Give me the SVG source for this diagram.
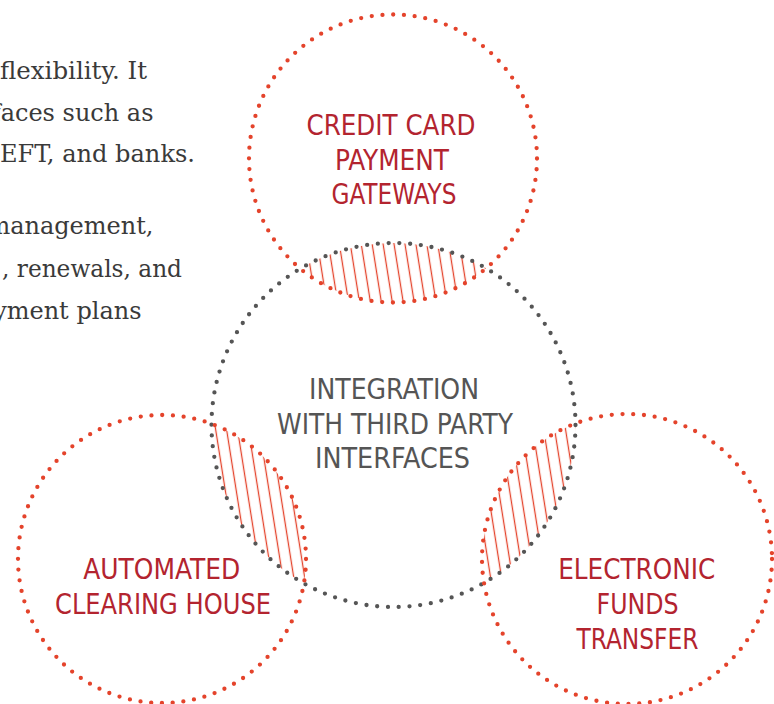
<svg xmlns="http://www.w3.org/2000/svg" width="774" height="704" viewBox="0 0 774 704">
  <style>
    .para { font-family: "DejaVu Serif", "Liberation Serif", serif; font-size: 24px; fill: #3a3a3a; text-anchor: end; }
    .lbl { font-family: "Liberation Sans Narrow", "DejaVu Sans Condensed", "Liberation Sans", sans-serif; font-size: 27.5px; text-anchor: middle; }
    .red { fill: #b3242f; }
    .gray { fill: #555555; }
    .dotr { fill: none; stroke: #e4432b; stroke-width: 4.3; stroke-linecap: round; stroke-dasharray: 0 10.77; }
    .dotg { fill: none; stroke: #555555; stroke-width: 4.3; stroke-linecap: round; stroke-dasharray: 0 10.79; }
  </style>
  <defs>
    <pattern id="hatch" width="10.8" height="40" patternUnits="userSpaceOnUse" patternTransform="rotate(-9)">
      <line x1="5.4" y1="-1" x2="5.4" y2="41" stroke="#e4432b" stroke-width="1.3"/>
    </pattern>
    <clipPath id="cCenter"><circle cx="393.5" cy="425" r="182"/></clipPath>
    <clipPath id="cTop"><circle cx="393" cy="158.5" r="144"/></clipPath>
    <clipPath id="cLeft"><circle cx="162" cy="559" r="144"/></clipPath>
    <clipPath id="cRight"><circle cx="627" cy="559" r="145"/></clipPath>
  </defs>

  <g id="paragraph">
    <text class="para" x="147" y="79" textLength="147" lengthAdjust="spacingAndGlyphs">flexibility. It</text>
    <text class="para" x="153.5" y="120.5">faces such as</text>
    <text class="para" x="195" y="162" textLength="195" lengthAdjust="spacingAndGlyphs">EFT, and banks.</text>
    <text class="para" x="153.5" y="234">management,</text>
    <text class="para" x="182" y="277" textLength="180" lengthAdjust="spacingAndGlyphs">, renewals, and</text>
    <text class="para" x="141.5" y="319">yment plans</text>
  </g>

  <g id="overlaps">
    <g clip-path="url(#cTop)"><rect x="200" y="200" width="400" height="150" fill="url(#hatch)" clip-path="url(#cCenter)"/></g>
    <g clip-path="url(#cLeft)"><rect x="180" y="380" width="160" height="240" fill="url(#hatch)" clip-path="url(#cCenter)"/></g>
    <g clip-path="url(#cRight)"><rect x="450" y="380" width="160" height="240" fill="url(#hatch)" clip-path="url(#cCenter)"/></g>
  </g>

  <g id="node-center">
    <circle class="dotg" cx="393.5" cy="425" r="182"/>
    <text class="lbl gray" x="394" y="398.5" textLength="170" lengthAdjust="spacingAndGlyphs">INTEGRATION</text>
    <text class="lbl gray" x="395" y="433.5" textLength="236" lengthAdjust="spacingAndGlyphs">WITH THIRD PARTY</text>
    <text class="lbl gray" x="392.5" y="468" textLength="155" lengthAdjust="spacingAndGlyphs">INTERFACES</text>
  </g>

  <g id="node-credit">
    <circle class="dotr" cx="393" cy="158.5" r="144"/>
    <text class="lbl red" x="391" y="134.5" textLength="169" lengthAdjust="spacingAndGlyphs">CREDIT CARD</text>
    <text class="lbl red" x="392" y="169.5" textLength="114" lengthAdjust="spacingAndGlyphs">PAYMENT</text>
    <text class="lbl red" x="394" y="204" textLength="125" lengthAdjust="spacingAndGlyphs">GATEWAYS</text>
  </g>

  <g id="node-ach">
    <circle class="dotr" cx="162" cy="559" r="144"/>
    <text class="lbl red" x="161.7" y="578.5" textLength="157" lengthAdjust="spacingAndGlyphs">AUTOMATED</text>
    <text class="lbl red" x="163" y="614" textLength="216" lengthAdjust="spacingAndGlyphs">CLEARING HOUSE</text>
  </g>

  <g id="node-eft">
    <circle class="dotr" cx="627" cy="559" r="145"/>
    <text class="lbl red" x="636.7" y="578.5" textLength="157" lengthAdjust="spacingAndGlyphs">ELECTRONIC</text>
    <text class="lbl red" x="637.5" y="613.5" textLength="82" lengthAdjust="spacingAndGlyphs">FUNDS</text>
    <text class="lbl red" x="637.5" y="648.5" textLength="122" lengthAdjust="spacingAndGlyphs">TRANSFER</text>
  </g>
</svg>
